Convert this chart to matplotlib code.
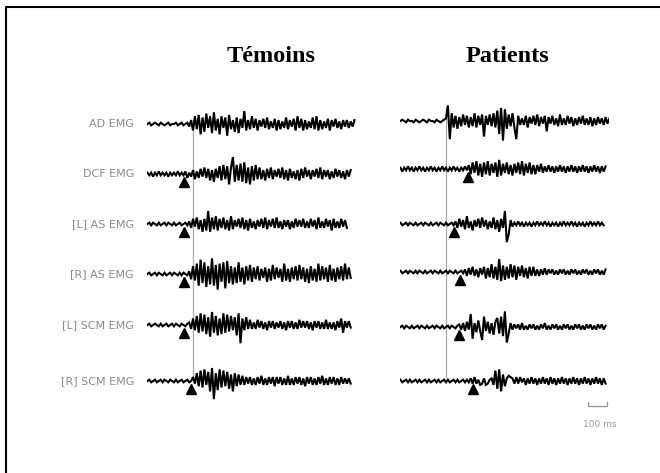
import numpy as np
import matplotlib
matplotlib.use("Agg")
import matplotlib.pyplot as plt
from matplotlib.lines import Line2D

# ---------------- data ----------------
T0 = -240      # ms, time of first sample
DT = 10        # ms, sampling step
muscles = ["AD EMG", "DCF EMG", "[L] AS EMG", "[R] AS EMG", "[L] SCM EMG", "[R] SCM EMG"]
groups = ["Témoins", "Patients"]

# Témoins traces (amplitude, arbitrary units)
t_AD = [0,1,-1,0,1,0,-1,1,0,-1,0,1,-1,0,0,1,-1,0,1,-1,0,1,
        -2,3,-5,6,-4,7,-8,5,-6,8,-3,6,-7,9,-5,4,-8,6,-3,5,-9,7,-4,3,-6,5,-7,4,-3,10,-5,3,-4,6,
        -3,4,-5,3,-2,4,-3,5,-4,2,-3,4,-5,3,-4,2,-3,5,-4,3,-2,4,-5,6,-3,4,-5,3,-4,2,-3,5,-4,6,
        -5,3,-4,2,-3,4,-5,3,-2,4,-3,2,-4,3,-2,3,-3,2,-2,3]
t_DCF = [1,-1,1,-2,1,-1,2,-1,1,-1,1,-2,1,-1,1,-1,2,-1,1,-1,
         2,-3,1,-2,3,-4,2,-3,4,-2,5,-3,4,-5,3,-6,4,-3,6,-5,7,-4,6,-8,5,13,-6,7,-5,8,-6,9,-7,5,-8,6,-5,7,-4,5,
         -4,3,-5,4,-3,5,-4,3,-2,4,-3,5,-4,3,-5,4,-3,2,-4,3,-5,4,-3,5,-2,3,-4,3,-2,4,-3,5,-4,3,-2,3,-4,2,
         -3,4,-2,3,-3,2,-4,3,-2,3]
t_LAS = [0,1,-1,1,0,-1,1,-1,0,1,-1,1,0,-1,1,-1,0,1,-1,0,1,-1,
         2,-3,4,-2,5,-4,3,-6,4,-5,10,-6,5,-4,6,-5,4,-3,5,-4,3,-5,6,-4,3,-2,4,-3,5,-4,3,-5,4,-3,2,-4,3,-2,
         4,-3,5,-4,3,-2,4,-3,5,-3,2,-4,3,-2,3,-4,2,-3,4,-2,3,-2,4,-3,2,-3,4,-2,3,-4,5,-3,2,-3,4,-2,3,-5,
         4,-3,2,-3,4,-2,3,-3]
t_RAS = [0,1,-1,0,1,-1,1,0,-1,1,-1,0,1,-1,1,0,-1,1,-1,1,0,-1,
         2,-4,6,-5,8,-9,11,-7,9,-10,6,-8,12,-9,7,-12,8,-6,9,-11,10,-7,6,-8,5,-7,9,-6,5,-8,6,-5,7,-6,
         5,-4,6,-5,4,-3,5,-6,4,-5,7,-4,5,-3,4,-6,8,-5,4,-6,5,-4,6,-5,7,-4,5,-6,4,-7,6,-5,4,-6,8,-5,6,-4,
         5,-6,7,-5,4,-6,5,-4,6,-5,8,-4,5,-3]
t_LSCM = [0,1,-1,0,1,0,-1,1,-1,0,1,-1,0,1,-1,1,0,-1,1,0,-1,1,
          2,-3,5,-4,7,-6,9,-5,8,-7,6,-9,10,-6,7,-8,5,-7,9,-6,8,-5,7,-4,6,-8,9,-14,5,-4,6,
          -3,4,-3,2,-3,4,-2,3,-3,2,-4,3,-2,3,-3,2,-2,3,-3,2,-4,3,-2,3,-3,2,-3,4,-2,3,-2,3,-3,2,-4,3,-2,3,
          -3,2,-3,4,-3,2,-3,2,-4,3,-2,5,-6,3,-2,3,-2]
t_RSCM = [0,1,-1,0,1,-1,0,1,-1,1,0,-1,1,0,-1,1,-1,0,1,-1,0,1,-1,0,
          3,-2,6,-4,8,-5,9,-3,7,-8,10,-14,6,-7,9,-5,8,-4,7,-6,5,-8,6,-4,5,-3,4,
          -3,3,-2,3,-3,2,-3,3,-2,4,-3,2,-3,3,-2,3,-4,3,-2,3,-3,2,-3,4,-3,2,-3,3,-2,3,-3,2,-4,3,-2,3,-3,2,
          -3,3,-2,4,-3,2,-3,3,-2,3,-3,2,-3,3,-2,2,-2,2,-2]

# Patients traces
p_AD = [0,1,0,-1,1,0,0,-1,1,0,-1,0,1,0,-1,1,0,0,-1,1,0,-1,0,1,
        2,12,-14,6,-5,4,-6,3,-4,5,-3,4,-5,3,-4,6,-5,4,-3,5,-12,4,-3,5,-4,6,-5,8,-10,10,-15,9,-6,5,-4,6,
        -5,-14,4,-3,2,-3,4,-5,3,-2,4,-3,5,-4,3,-2,4,-8,3,-2,4,-3,2,-4,5,-3,2,-3,4,-2,3,-4,2,-3,3,-2,4,
        -3,2,-3,3,-4,2,-3,3,-2,2,-3,3,-2,2]
p_DCF = [1,-2,1,-1,2,-1,1,-2,1,-1,2,-1,1,-2,1,-1,2,-1,1,-2,1,-1,2,-1,1,-2,1,-1,2,-1,1,-2,1,-1,2,-1,
         3,-4,5,-3,6,-5,4,-6,5,-4,6,-5,4,-3,5,-6,7,-5,4,-3,5,-4,3,-5,4,-3,5,-4,6,-5,4,-3,5,-4,3,-4,3,-2,
         4,-3,2,-2,3,-2,2,-3,2,-2,3,-2,2,-3,2,-2,3,-2,2,-3,2,-2,3,-2,2,-3,2,-2,3,-2,2,-3,2,-2,2]
p_LAS = [1,-1,0,1,-1,1,0,-1,1,-1,0,1,-1,1,0,-1,1,-1,0,1,-1,1,0,-1,1,-1,0,1,-1,
         2,-3,4,-2,3,-4,6,-3,2,-5,3,-2,4,-3,5,-2,3,-4,2,-3,5,-4,3,-6,4,-3,10,-14,-8,3,
         -2,1,-1,2,-1,1,-2,1,-1,1,-2,1,-1,2,-1,1,-1,2,-1,1,-2,1,-1,1,-2,1,-1,2,-1,1,-1,2,-1,1,-2,1,-1,
         1,-2,1,-1,2,-1,1,-1,2,-1,1,-1]
p_RAS = [1,-1,0,1,-1,1,0,-1,1,-1,1,0,-1,1,-1,0,1,-1,1,0,-1,1,-1,0,1,-1,1,0,-1,1,-1,0,1,-1,
         2,-3,3,-2,4,-3,2,-4,3,-2,4,-5,3,-4,6,-5,4,-6,10,-7,5,-6,4,-5,6,-4,5,-6,4,-3,5,-4,3,-5,4,-3,4,
         -3,2,-3,2,-2,3,-2,2,-1,2,-2,1,-2,2,-1,2,-2,1,-2,2,-1,2,-2,1,-2,2,-1,2,-2,1,-2,2,-1,2,-2,1,-2,2]
p_LSCM = [0,1,-1,1,0,-1,1,-1,0,1,-1,1,0,-1,1,-1,0,1,-1,1,0,-1,1,-1,0,1,-1,1,0,-1,1,
          2,-2,3,-3,4,-2,10,-9,3,-4,5,-3,-10,8,-3,4,-5,3,-6,4,7,-5,8,-7,12,-12,-5,3,
          -2,2,-1,2,-2,3,-2,1,-2,2,-1,2,-2,1,-2,2,-1,3,-2,1,-2,2,-1,2,-2,1,-2,2,-1,2,-2,1,-2,2,-1,2,-2,
          1,-2,2,-1,2,-2,1,-2,2,-1,2,-2,1]
p_RSCM = [1,-1,0,1,-1,1,-1,0,1,-1,1,-1,0,1,-1,1,-1,0,1,-1,1,-1,0,1,-1,1,-1,0,1,-1,1,-1,0,1,-1,1,-1,
          2,-2,3,-2,1,-3,-2,2,-3,-2,1,2,-3,8,-6,9,-8,5,-4,2,4,3,
          2,-2,3,-2,3,-1,2,-3,2,-2,3,-2,2,-3,2,-2,3,-2,2,-3,3,-2,2,-3,2,-2,3,-2,2,-3,2,-2,3,-2,2,-3,2,-2,
          3,-2,2,-3,2,-2,3,-2,2,-3,2,-2]

temoins_traces = [t_AD, t_DCF, t_LAS, t_RAS, t_LSCM, t_RSCM]
patients_traces = [p_AD, p_DCF, p_LAS, p_RAS, p_LSCM, p_RSCM]

# response onset markers (ms), None = no marker
temoins_onsets = [None, -47, -47, -47, -47, -10]
patients_onsets = [None, 118, 40, 75, 70, 140]

scale_bar_ms = 100

# ---------------- layout ----------------
W, H = 660, 473
PX_PER_MS = 0.19
XLIM = (-240, 860)
GAIN = 1.3
temoins_rows = [124, 174, 224, 274, 325, 381]
patients_rows = [121, 169, 224, 272, 327, 381]

fig = plt.figure(figsize=(W / 100, H / 100), dpi=100)
fig.patch.set_facecolor("white")


def make_axes(zero_px):
    left = zero_px - (0 - XLIM[0]) * PX_PER_MS
    width = (XLIM[1] - XLIM[0]) * PX_PER_MS
    ax = fig.add_axes([left / W, 0, width / W, 1])
    ax.set_xlim(*XLIM)
    ax.set_ylim(-H, 0)
    ax.axis("off")
    return ax


axT = make_axes(193)
axP = make_axes(446)


def draw_panel(ax, traces, rows, onsets, line_top, line_bottom):
    ax.plot([0, 0], [-line_top, -line_bottom], color="#b0b0b0", lw=1.0, zorder=1)
    for tr, r, on in zip(traces, rows, onsets):
        v = np.asarray(tr, dtype=float) * GAIN
        t = T0 + DT * np.arange(len(v))
        ax.plot(t, v - r, color="black", lw=1.5, zorder=2, solid_joinstyle="miter")
        if on is not None:
            ax.plot([on], [-r - 8], marker="^", color="black", ms=7.5, zorder=3)


draw_panel(axT, temoins_traces, temoins_rows, temoins_onsets, 120, 376)
draw_panel(axP, patients_traces, patients_rows, patients_onsets, 108, 377)

# muscle labels
for name, r in zip(muscles, temoins_rows):
    fig.text(134 / W, 1 - r / H, name, ha="right", va="center",
             fontsize=8, color="#8a8a8a", family="DejaVu Sans")

# titles
for g, xpx in zip(groups, [271, 507]):
    fig.text(xpx / W, 1 - 57 / H, g, ha="center", va="center",
             fontsize=17.5, fontweight="bold", family="Liberation Serif", color="black")

# scale bar
sb0 = 745
axP.plot([sb0, sb0, sb0 + scale_bar_ms, sb0 + scale_bar_ms],
         [-402, -406, -406, -402], color="#999999", lw=1.0, clip_on=False)
axP.text(sb0 + scale_bar_ms / 2 + 15, -424, f"{scale_bar_ms} ms", ha="center", va="center",
         fontsize=6.5, color="#999999")

# frame (top and left edges)
fig.add_artist(Line2D([6 / W, 6 / W, 1], [0, 1 - 7.5 / H, 1 - 7.5 / H],
                      color="black", lw=1.5, transform=fig.transFigure))

fig.savefig("out.png", dpi=100, facecolor="white")
